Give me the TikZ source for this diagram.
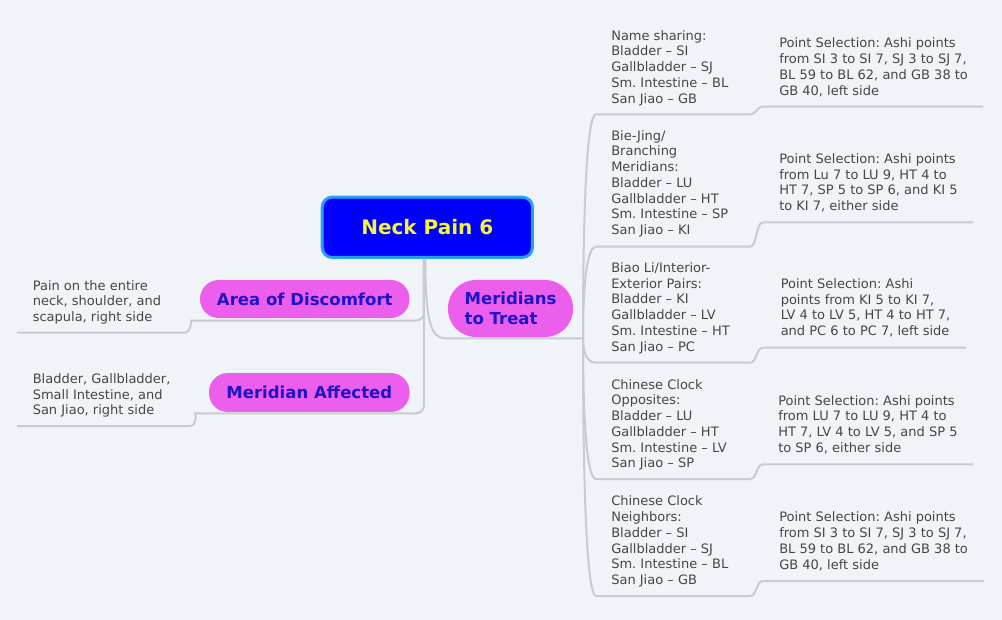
\documentclass[tikz,border=0pt]{standalone}
\usepackage{fontspec}
\setmainfont{DejaVu Sans}
\usetikzlibrary{calc}
\frenchspacing
\definecolor{bgC}{HTML}{F0F4F8}
\definecolor{lineC}{HTML}{C8CCD0}
\definecolor{rootC}{HTML}{0000FF}
\definecolor{rootB}{HTML}{2AA0F0}
\definecolor{rootT}{HTML}{F5F53C}
\definecolor{pinkC}{HTML}{EC5EEC}
\definecolor{labC}{HTML}{1E14C8}
\definecolor{txtC}{HTML}{464646}
\tikzset{
  rootbox/.style={rectangle, rounded corners=7.5pt, draw=rootB, line width=2.25pt, fill=rootC,
                  text=rootT, inner sep=0pt, font=\bfseries\fontsize{15}{18}\selectfont},
  topic/.style={rectangle, rounded corners=14pt, fill=pinkC, text=labC, inner sep=0pt,
                align=left, font=\bfseries\fontsize{12.4}{14.5}\selectfont},
  note/.style={anchor=north west, inner sep=0pt, align=left, text=txtC,
               font=\fontsize{9.75}{11.78}\selectfont},
  link/.style={draw=lineC, line width=1.5pt},
}
\begin{document}
\begin{tikzpicture}[x=0.75pt,y=-0.75pt]
  \fill[bgC] (0,0) rectangle (1002,620);
  \useasboundingbox (0,0) rectangle (1002,620);
  % central topic and the three main topics
  \node[rootbox, minimum width=157.7pt, minimum height=45.2pt] (root) at (427.3,227.3) {Neck Pain 6};
  \node[topic, minimum width=157.1pt, minimum height=28.5pt] (disc) at (304.8,299) {Area of Discomfort};
  \node[topic, minimum width=150.4pt, minimum height=29.2pt] (aff) at (309.3,392.5) {Meridian Affected};
  \node[topic, rounded corners=21pt, minimum width=93.8pt, minimum height=42.8pt] (treat) at (510.5,308.5)
    {Meridians\\to Treat};
  % left notes
  \node[note] (discN) at (32.5,280.1) {Pain on the entire\\neck, shoulder, and\\scapula, right side};
  \node[note] (affN) at (32.5,373.4) {Bladder, Gallbladder,\\Small Intestine, and\\San Jiao, right side};
  % meridian pairings
  \node[note] (g1) at (611,30.1) {Name sharing:\\Bladder – SI\\Gallbladder – SJ\\Sm. Intestine – BL\\San Jiao – GB};
  \node[note] (g2) at (611,130.1) {Bie-Jing/\\Branching\\Meridians:\\Bladder – LU\\Gallbladder – HT\\Sm. Intestine – SP\\San Jiao – KI};
  \node[note] (g3) at (611,262.4) {Biao Li/Interior-\\Exterior Pairs:\\Bladder – KI\\Gallbladder – LV\\Sm. Intestine – HT\\San Jiao – PC};
  \node[note] (g4) at (611,379.1) {Chinese Clock\\Opposites:\\Bladder – LU\\Gallbladder – HT\\Sm. Intestine – LV\\San Jiao – SP};
  \node[note] (g5) at (611,495.8) {Chinese Clock\\Neighbors:\\Bladder – SI\\Gallbladder – SJ\\Sm. Intestine – BL\\San Jiao – GB};
  % point selections
  \node[note] (p1) at (779,37.8) {Point Selection: Ashi points\\from SI 3 to SI 7, SJ 3 to SJ 7,\\BL 59 to BL 62, and GB 38 to\\GB 40, left side};
  \node[note] (p2) at (779,153.4) {Point Selection: Ashi points\\from Lu 7 to LU 9, HT 4 to\\HT 7, SP 5 to SP 6, and KI 5\\to KI 7, either side};
  \node[note] (p3) at (780.5,278.4) {Point Selection: Ashi\\points from KI 5 to KI 7,\\LV 4 to LV 5, HT 4 to HT 7,\\and PC 6 to PC 7, left side};
  \node[note] (p4) at (778,395.1) {Point Selection: Ashi points\\from LU 7 to LU 9, HT 4 to\\HT 7, LV 4 to LV 5, and SP 5\\to SP 6, either side};
  \node[note] (p5) at (779,511.8) {Point Selection: Ashi points\\from SI 3 to SI 7, SJ 3 to SJ 7,\\BL 59 to BL 62, and GB 38 to\\GB 40, left side};
  % line ends
  \coordinate (dA) at (199,320.5);  \coordinate (dB) at (184,332.7);  \coordinate (dC) at (17,332.7);
  \coordinate (fA) at (203,413.3);  \coordinate (fB) at (190,426);    \coordinate (fC) at (17,426);
  \coordinate (tA) at (445,338.3);  \coordinate (hub) at (583,338.3);
  \coordinate (sL) at (750,0);      \coordinate (sR) at (763,0);
  \coordinate (g1a) at (596,114.3); \coordinate (g1d) at (983,106.7);
  \coordinate (g2a) at (596,246.7); \coordinate (g2d) at (973,222.3);
  \coordinate (g3a) at (596,362.7); \coordinate (g3d) at (966,347.7);
  \coordinate (g4a) at (596,479);   \coordinate (g4d) at (973,464.3);
  \coordinate (g5a) at (596,596);   \coordinate (g5d) at (984,581);
  % connectors
  \draw[link, rounded corners=6pt] ([xshift=-2.5pt]root.south) |- (dA)
    [sharp corners] .. controls +(-8,0) and +(8,0) .. (dB) -- (dC);
  \draw[link, rounded corners=6pt] ([xshift=-2.5pt]root.south) |- (fA)
    [sharp corners] .. controls +(-7,0) and +(7,0) .. (fB) -- (fC);
  \draw[link] ([xshift=-1.5pt]root.south) .. controls +(0,62) and +(-14,0) .. (tA) -- (hub);
  \draw[link] (hub) .. controls +(0,-134) and +(-9,0) .. (g1a) -- (g1a -| sL)
    .. controls +(7,0) and +(-7,0) .. (g1d -| sR) -- (g1d);
  \draw[link] (hub) .. controls +(0,-55) and +(-9,0) .. (g2a) -- (g2a -| sL)
    .. controls +(7,0) and +(-7,0) .. (g2d -| sR) -- (g2d);
  \draw[link] (hub) .. controls +(0,15) and +(-9,0) .. (g3a) -- (g3a -| sL)
    .. controls +(7,0) and +(-7,0) .. (g3d -| sR) -- (g3d);
  \draw[link] (hub) .. controls +(0,84) and +(-9,0) .. (g4a) -- (g4a -| sL)
    .. controls +(7,0) and +(-7,0) .. (g4d -| sR) -- (g4d);
  \draw[link] (hub) .. controls +(0,155) and +(-9,0) .. (g5a) -- (g5a -| sL)
    .. controls +(7,0) and +(-7,0) .. (g5d -| sR) -- (g5d);
\end{tikzpicture}
\end{document}
